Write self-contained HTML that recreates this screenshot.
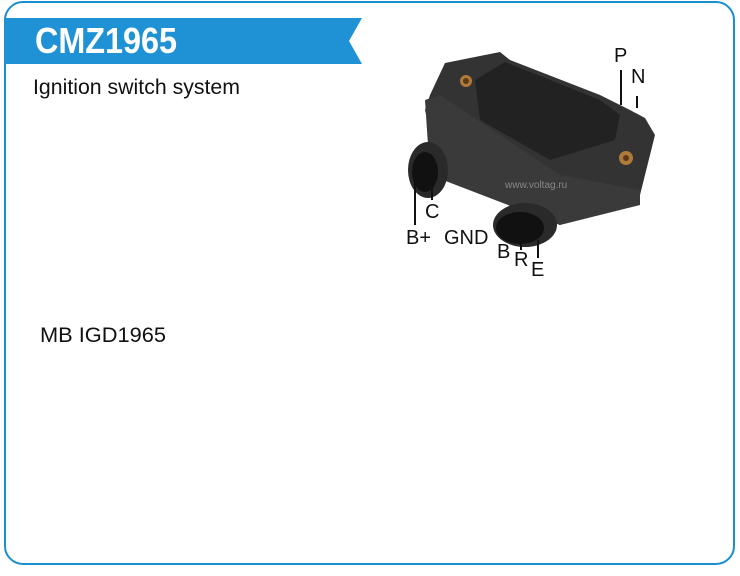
<!DOCTYPE html>
<html><head><style>
body{margin:0;width:740px;height:576px;background:#fff;overflow:hidden;font-family:"Liberation Sans",Arial,sans-serif}
</style></head><body>
<svg width="740" height="576" viewBox="0 0 740 576" xmlns="http://www.w3.org/2000/svg" style="position:absolute;left:0;top:0">
<rect x="5" y="2" width="729" height="562" rx="18" ry="18" fill="#fff" stroke="#1a8ed0" stroke-width="2"/>
<polygon points="5,18 362,18 349,41 362,64 5,64" fill="#1f92d5"/>
<text x="35" y="53" font-size="36" font-weight="bold" fill="#fff" textLength="142" lengthAdjust="spacingAndGlyphs">CMZ1965</text>
<text x="33" y="94" font-size="21" fill="#111" textLength="207" lengthAdjust="spacingAndGlyphs">Ignition switch system</text>
<text x="40" y="342" font-size="21" fill="#111" textLength="126" lengthAdjust="spacingAndGlyphs">MB IGD1965</text>
<g>
<polygon points="445,63 500,52 510,60 600,95 630,110 645,118 655,135 650,155 640,195 600,205 560,225 500,200 440,175 425,110 430,95" fill="#333"/>
<polygon points="475,80 505,62 600,100 620,115 615,140 550,160 480,120" fill="#222"/>
<polygon points="425,100 440,95 560,175 640,190 640,205 560,225 430,175" fill="#3a3a3a"/>
<circle cx="466" cy="81" r="6" fill="#b07a3a"/><circle cx="466" cy="81" r="3" fill="#5a3a1a"/>
<circle cx="626" cy="158" r="7" fill="#b07a3a"/><circle cx="626" cy="158" r="3" fill="#5a3a1a"/>
<ellipse cx="428" cy="170" rx="20" ry="28" fill="#2a2a2a"/>
<ellipse cx="425" cy="172" rx="13" ry="20" fill="#111"/>
<ellipse cx="525" cy="225" rx="32" ry="22" fill="#2a2a2a"/>
<ellipse cx="520" cy="228" rx="24" ry="16" fill="#111"/>
<line x1="621" y1="70" x2="621" y2="105" stroke="#111" stroke-width="2"/>
<line x1="637" y1="96" x2="637" y2="108" stroke="#111" stroke-width="2"/>
<line x1="415" y1="180" x2="415" y2="225" stroke="#111" stroke-width="2"/>
<line x1="432" y1="188" x2="432" y2="200" stroke="#111" stroke-width="2"/>
<line x1="506" y1="232" x2="506" y2="240" stroke="#111" stroke-width="2"/>
<line x1="521" y1="236" x2="521" y2="250" stroke="#111" stroke-width="2"/>
<line x1="538" y1="240" x2="538" y2="258" stroke="#111" stroke-width="2"/>
<g font-size="20" fill="#111">
<text x="614" y="62">P</text>
<text x="631" y="83">N</text>
<text x="425" y="218">C</text>
<text x="406" y="244">B+</text>
<text x="444" y="244">GND</text>
<text x="497" y="258">B</text>
<text x="514" y="266">R</text>
<text x="531" y="276">E</text>
</g>
<text x="505" y="188" font-size="10" fill="#888">www.voltag.ru</text>
</g>
</svg>
</body></html>
